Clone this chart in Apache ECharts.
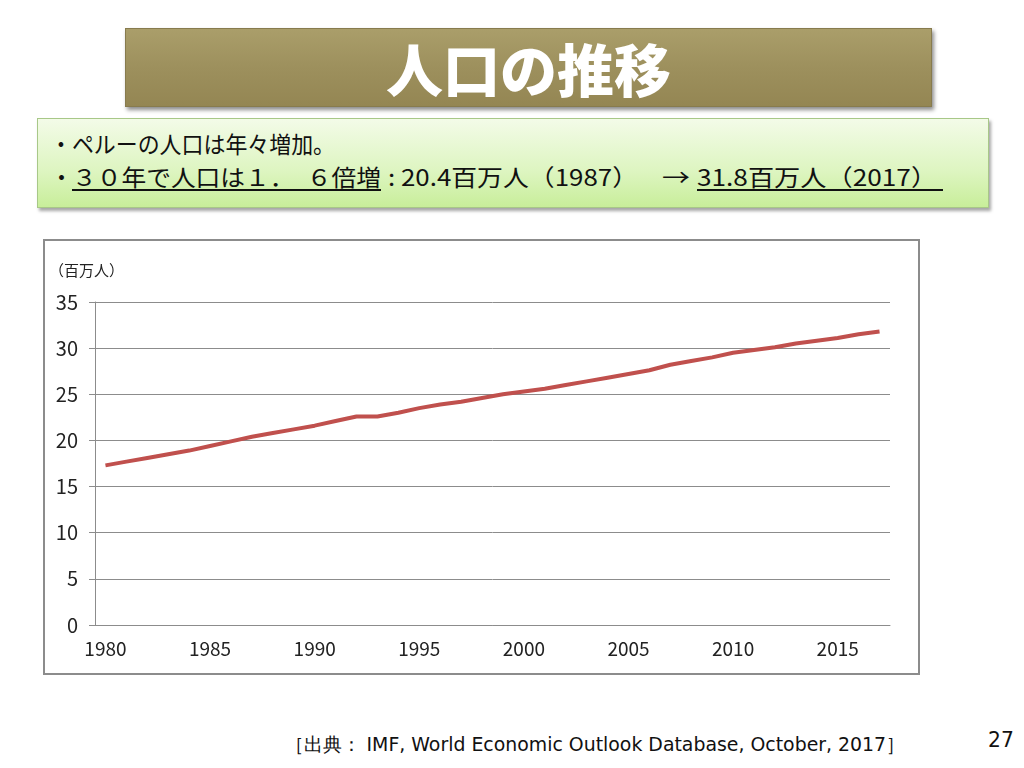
<!DOCTYPE html>
<html><head><meta charset="utf-8">
<script src="https://cdn.jsdelivr.net/npm/echarts@6/dist/echarts.min.js"></script>
<style>
html,body{margin:0;padding:0;background:#fff;width:1024px;height:768px;overflow:hidden;font-family:"Noto Sans CJK JP","Noto Sans",sans-serif;}
#title{position:absolute;left:125px;top:28px;width:805px;height:77px;background:linear-gradient(#aa9e6a,#9d905d 50%,#948653);border:1px solid #877b4e;box-shadow:2px 3px 4px rgba(0,0,0,0.45);}
#title span{position:absolute;left:0;width:100%;top:0;text-align:center;color:#fff;font-weight:900;font-size:57px;line-height:77px;}
#box{position:absolute;left:37px;top:118px;width:950px;height:88px;background:linear-gradient(#f3fbe8,#ddf5c0 60%,#c8ee9a);border:1px solid #a8c888;box-shadow:2px 3px 3px rgba(0,0,0,0.35);}
.seg{position:absolute;font-size:23px;line-height:30px;color:#111;white-space:nowrap;transform-origin:0 0;}
.seg u{text-decoration:underline;text-decoration-thickness:1.5px;text-underline-offset:3px;}
#frame{position:absolute;left:43px;top:239px;width:873px;height:432px;border:2px solid #8c8c8c;background:#fff;}
#chart{position:absolute;left:0;top:0;width:873px;height:432px;}
#src{position:absolute;left:285px;top:731px;font-family:"DejaVu Sans",sans-serif;font-size:19px;line-height:26px;color:#111;white-space:nowrap;transform-origin:0 0;}
#pg{position:absolute;left:988px;top:727px;font-family:"DejaVu Sans",sans-serif;font-size:22px;color:#111;transform:scaleX(0.92);transform-origin:0 0;}
</style></head>
<body>
<div id="title"><span>人口の推移</span></div>
<div id="box"></div>
<div class="seg fit" data-l="50" data-r="335" style="top:128px">・ペルーの人口は年々増加。</div>
<div class="seg" style="left:50px;top:161px">・</div>
<div class="seg fit" data-l="72" data-r="381" style="top:161px"><u>３０年で人口は１．　６倍増</u></div>
<div class="seg fit" data-l="388" data-r="638" style="top:161px">: 20.4百万人（1987）</div>
<div class="seg fit" data-l="662" data-r="690" style="top:161px">→</div>
<div class="seg fit" data-l="697" data-r="943" style="top:161px"><u>31.8百万人（2017）&nbsp;</u></div>
<div id="frame"><div id="chart"></div></div>
<div id="src" class="fit" data-l="285" data-r="905">［出典： IMF, World Economic Outlook Database, October, 2017］</div>
<div id="pg">27</div>
<script>
document.querySelectorAll('.fit').forEach(el=>{
  const l=+el.dataset.l, r=+el.dataset.r;
  el.style.left=l+'px';
  const w=el.getBoundingClientRect().width;
  el.style.transform='scaleX('+((r-l)/w)+')';
});
const years = ["1980","1981","1982","1983","1984","1985","1986","1987","1988","1989","1990","1991","1992","1993","1994","1995","1996","1997","1998","1999","2000","2001","2002","2003","2004","2005","2006","2007","2008","2009","2010","2011","2012","2013","2014","2015","2016","2017"];
const population = [17.3,17.7,18.1,18.5,18.9,19.4,19.9,20.4,20.8,21.2,21.6,22.1,22.6,22.6,23.0,23.5,23.9,24.2,24.6,25.0,25.3,25.6,26.0,26.4,26.8,27.2,27.6,28.2,28.6,29.0,29.5,29.8,30.1,30.5,30.8,31.1,31.5,31.8];
const yTicks = [0,5,10,15,20,25,30,35];
const unitLabel = '（百万人）';
const chart = echarts.init(document.getElementById('chart'));
chart.setOption({
  animation:false,
  grid:{left:50,right:28,top:61,bottom:48,outerBoundsMode:'none',containLabel:false},
  graphic:[{type:'text',left:4,top:22,style:{text:unitLabel,fontSize:15,fill:'#222',fontFamily:'"Noto Sans CJK JP",sans-serif'}}],
  xAxis:{type:'category',data:years,boundaryGap:true,
    axisLine:{lineStyle:{color:'#8c8c8c',width:1}},
    axisTick:{interval:0,length:5,lineStyle:{color:'#8c8c8c'}},
    axisLabel:{interval:4,color:'#222',fontSize:19,fontFamily:'"Noto Sans CJK JP",sans-serif',margin:14}},
  yAxis:{type:'value',min:0,max:35,interval:5,
    axisLine:{show:true,lineStyle:{color:'#8c8c8c'}},
    axisTick:{show:true,length:6,lineStyle:{color:'#8c8c8c'}},
    axisLabel:{color:'#222',fontSize:20,margin:17,fontFamily:'"Noto Sans CJK JP",sans-serif',
      formatter:v=>yTicks.includes(v)?String(v):''},
    splitLine:{lineStyle:{color:'#8c8c8c',width:1}}},
  series:[{type:'line',data:population,symbol:'none',smooth:false,
    lineStyle:{color:'#c0504d',width:4}}]
});
</script>
</body></html>
